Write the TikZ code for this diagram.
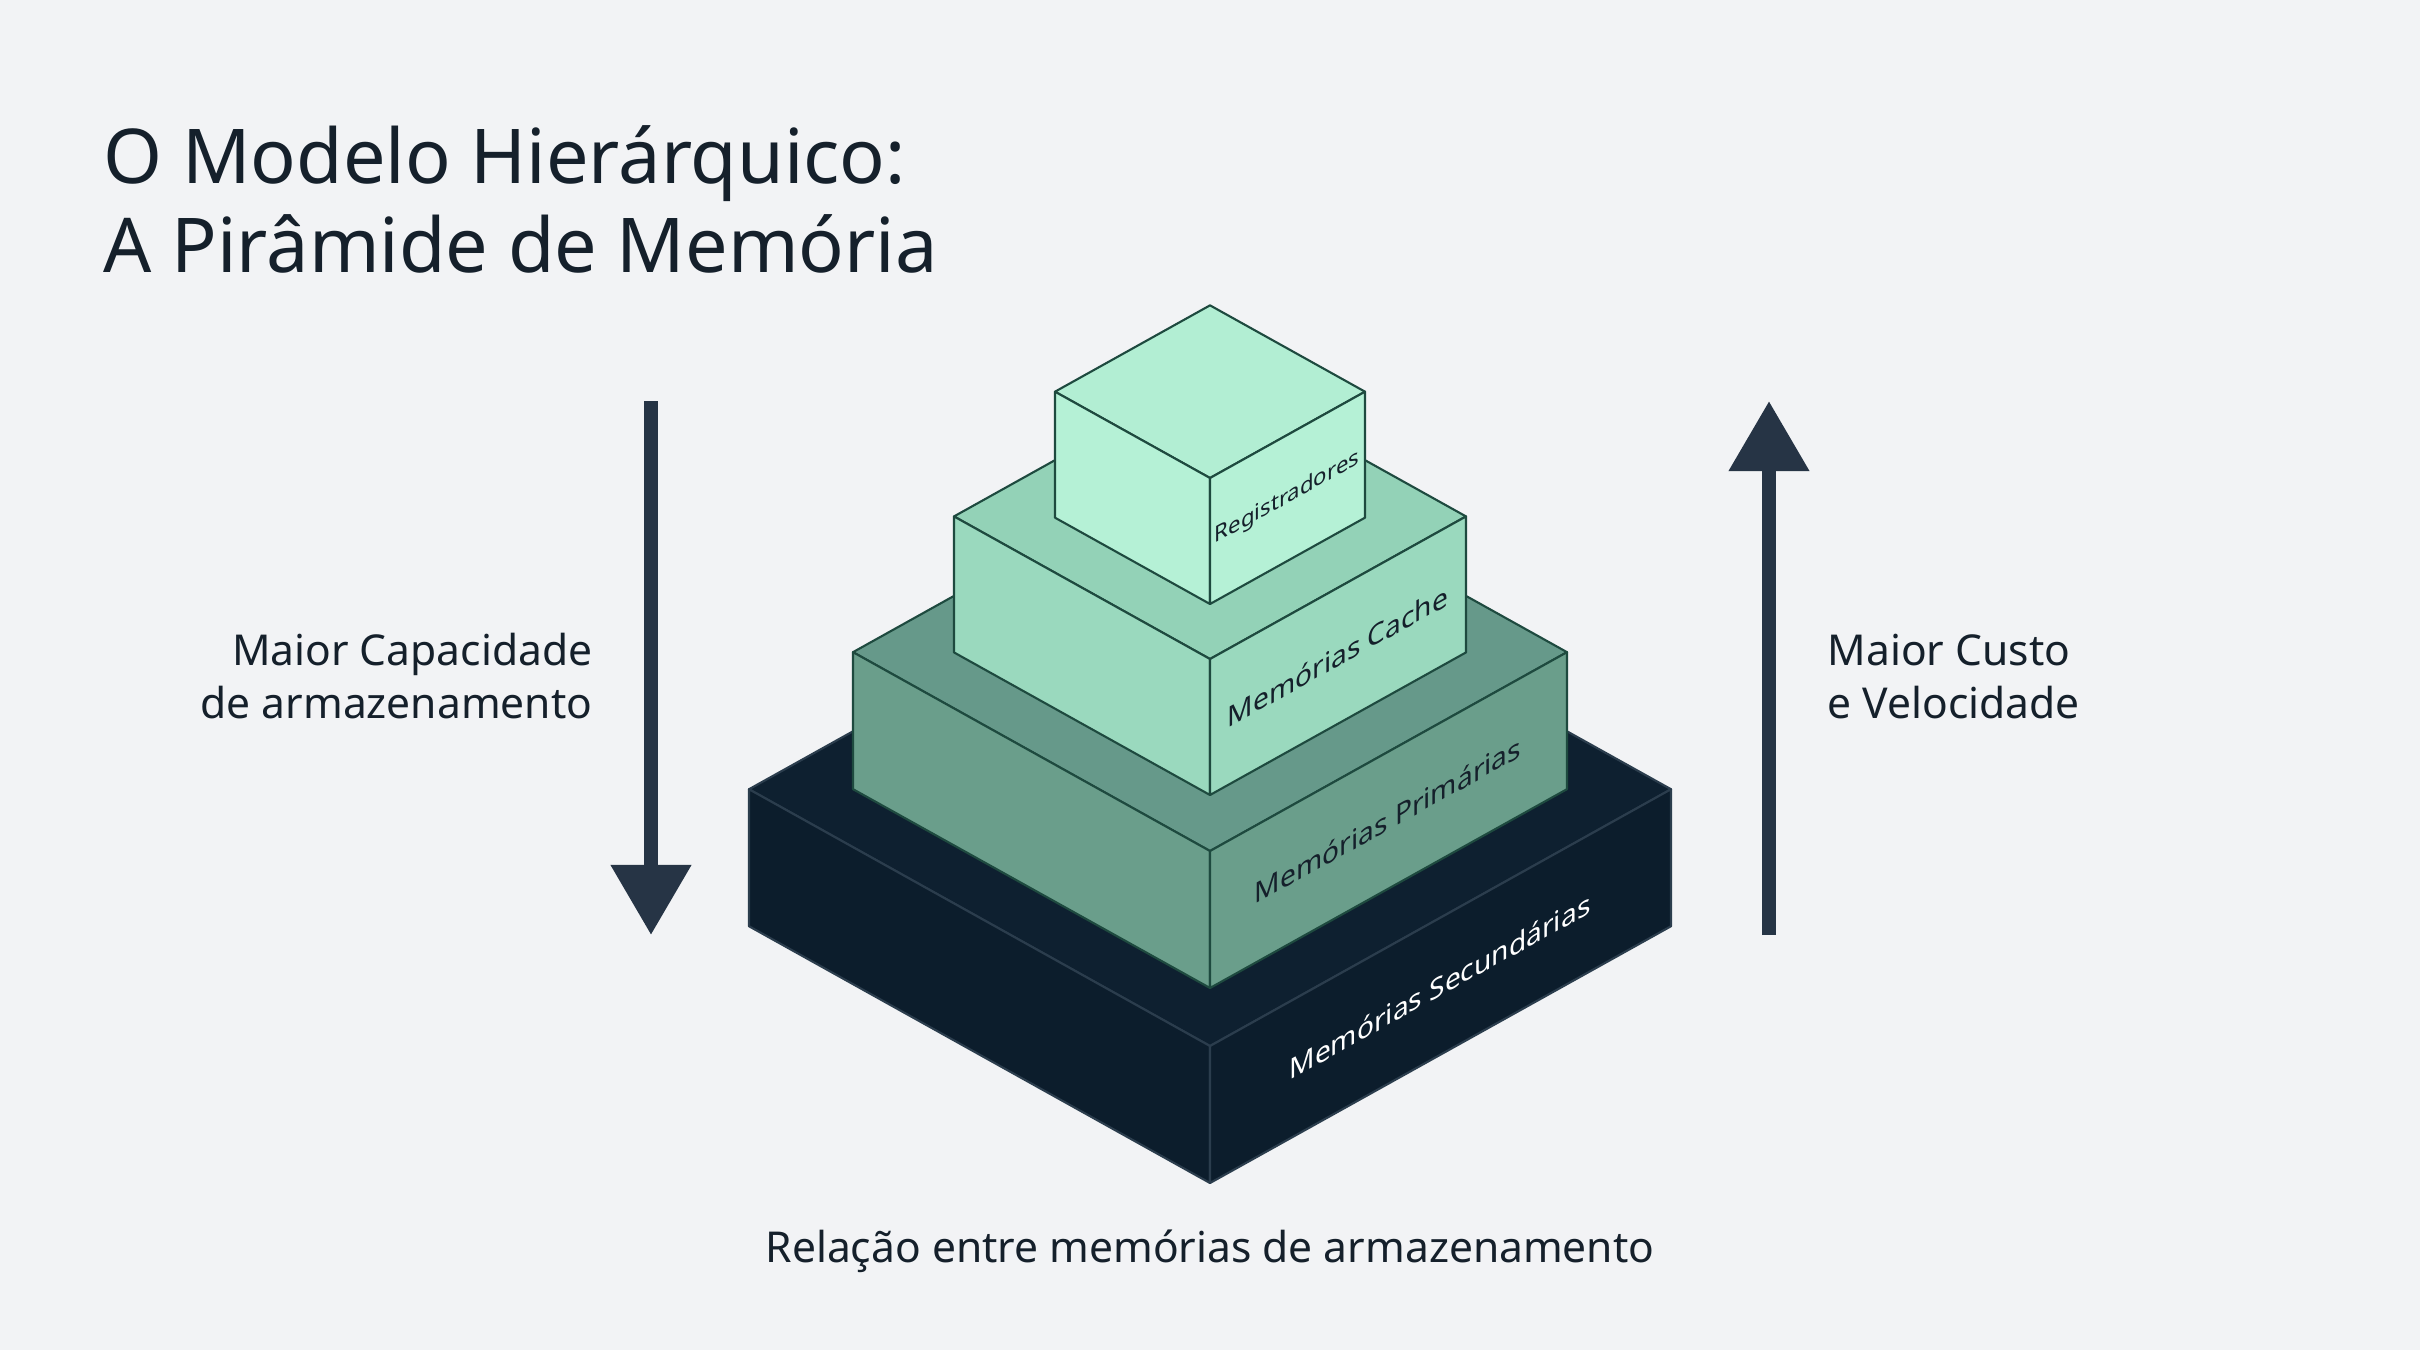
\documentclass[tikz,border=0pt]{standalone}
\usepackage{fontspec}
\setmainfont{Noto Sans}
\usepackage{tikz}
\usetikzlibrary{arrows.meta,calc,positioning}
\definecolor{fundo}{HTML}{F2F3F5}
\definecolor{texto}{HTML}{15202B}
\definecolor{corseta}{HTML}{263445}
\definecolor{secTopo}{HTML}{0E2030}
\definecolor{secLado}{HTML}{0C1D2C}
\definecolor{secAresta}{HTML}{2B3D4D}
\definecolor{priTopo}{HTML}{66998A}
\definecolor{priLado}{HTML}{6A9E8B}
\definecolor{cacTopo}{HTML}{93D2B7}
\definecolor{cacLado}{HTML}{9AD9BE}
\definecolor{regTopo}{HTML}{B2EED3}
\definecolor{regLado}{HTML}{B5F1D6}
\definecolor{verdeAresta}{HTML}{1E4A3F}
\tikzset{%
	titulo/.style   = {align=left, font=\fontsize{21.5}{25.3}\selectfont, text=texto, inner sep=0pt},
	legenda/.style  = {align=left, font=\fontsize{12.1}{15}\selectfont, text=texto, inner sep=0pt},
	rotulo/.style   = {yslant=0.557, font=\fontsize{8}{9}\selectfont, text=texto, inner sep=0pt}, % face label
	seta/.style     = {draw=corseta, line width=4pt, -{Triangle[width=0.77cm,length=0.7cm]}},
	aresta/.style   = {line width=0.6pt, line join=round},
}
% one layer of the pyramid: front vertex y, half width, height, top, side, edge colours
\newcommand{\camada}[6]{%
	\filldraw[aresta, draw=#6, fill=#4] (1210,#1) -- ++(#2,{0.557*#2}) -- ++(-#2,{0.557*#2}) -- ++(-#2,{-0.557*#2}) -- cycle;
	\filldraw[aresta, draw=#6, fill=#5] (1210,#1) -- ++(-#2,{0.557*#2}) -- ++(0,-#3) -- ++(#2,{-0.557*#2}) -- cycle;
	\filldraw[aresta, draw=#6, fill=#5] (1210,#1) -- ++(#2,{0.557*#2}) -- ++(0,-#3) -- ++(-#2,{-0.557*#2}) -- cycle;
}

\begin{document}
\begin{tikzpicture}[x=0.01cm,y=0.01cm]
	\path[use as bounding box, fill=fundo] (0,0) rectangle (2420,-1350);
	\node [titulo, anchor=base west] (titulo) at (103,-272) {O Modelo Hierárquico:\\A Pirâmide de Memória};

	% pyramid, bottom to top
	\camada{-1046}{461}{137}{secTopo}{secLado}{secAresta}
	\camada{-851}{357}{137}{priTopo}{priLado}{verdeAresta}
	\camada{-659}{256}{136}{cacTopo}{cacLado}{verdeAresta}
	\camada{-478}{155}{126}{regTopo}{regLado}{verdeAresta}
	\node [rotulo, text=white] (secundarias) at (1440,-986) {Memórias Secundárias};
	\node [rotulo] (primarias) at (1388,-820) {Memórias Primárias};
	\node [rotulo] (cache) at (1338,-656) {Memórias Cache};
	\node [rotulo, font=\fontsize{6.3}{8}\selectfont] (registradores) at (1287,-498) {Registradores};

	% arrows at the sides
	\coordinate (capInicio) at (651,-401);
	\coordinate (capFim) at (651,-935);
	\coordinate (custoInicio) at (1769,-935);
	\coordinate (custoFim) at (1769,-401);
	\draw[seta] (capInicio) -- (capFim);
	\draw[seta] (custoInicio) -- (custoFim);
	\node [legenda, align=right, anchor=base east] (capacidade) at (593,-718) {Maior Capacidade\\de armazenamento};
	\node [legenda, anchor=base west] (custo) at (1827,-718) {Maior Custo\\e Velocidade};

	\node [legenda, anchor=base] (relacao) at (1210,-1262) {Relação entre memórias de armazenamento};
\end{tikzpicture}
\end{document}
